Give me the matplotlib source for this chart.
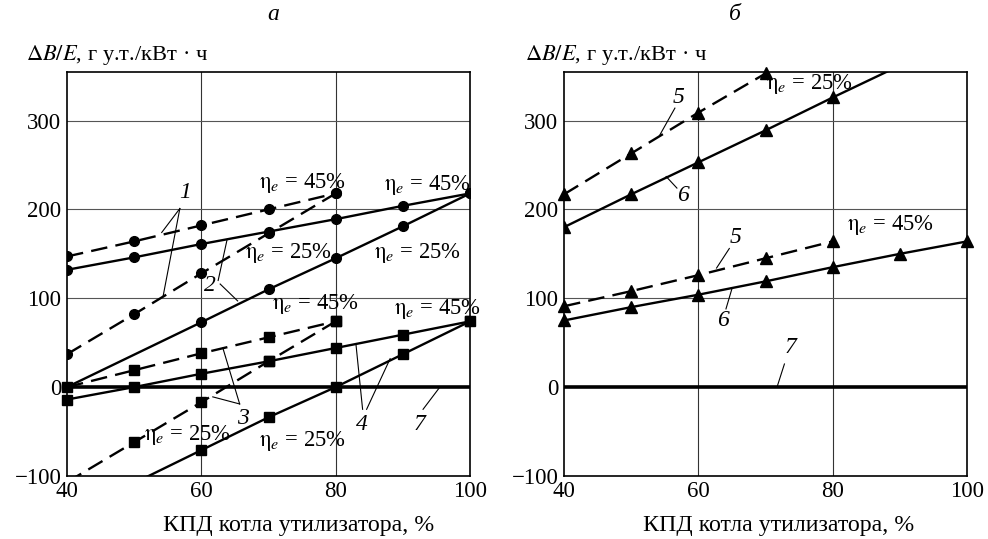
import numpy as np
import matplotlib
matplotlib.use('Agg')
import matplotlib.pyplot as plt

plt.rcParams['font.family'] = ['Liberation Serif', 'DejaVu Serif']
plt.rcParams['mathtext.fontset'] = 'stix'

# ---- panel a: circles (curves 1, 2), squares (curves 3, 4) ----
x1 = [40, 50, 60, 70, 80]
c1_45 = [147, 164, 182, 200, 218]
c1_25 = [37, 82, 128, 173, 218]

x2_45 = [40, 50, 60, 70, 80, 90, 100]
c2_45 = [132, 146, 161, 175, 189, 204, 218]
x2_25 = [40, 60, 70, 80, 90, 100]
c2_25 = [0, 73, 110, 145, 181, 218]

x3_45 = [40, 50, 60, 70, 80]
c3_45 = [0, 19, 38, 56, 74]
x3_25 = [40, 50, 60, 70, 80]
c3_25 = [-107, -62, -17, 29, 74]

x4_45 = [40, 50, 60, 70, 80, 90, 100]
c4_45 = [-14, 0, 15, 29, 44, 59, 74]
x4_25 = [50, 60, 70, 80, 90, 100]
c4_25 = [-108, -71, -34, 0, 37, 74]

# ---- panel b: triangles (curves 5, 6) ----
x5_25 = [40, 50, 60, 70]
c5_25 = [217, 263, 309, 353]
x6_25 = [40, 50, 60, 70, 80, 90]
c6_25 = [180, 217, 253, 289, 326, 362]
x5_45 = [40, 50, 60, 70, 80]
c5_45 = [91, 108, 126, 145, 164]
x6_45 = [40, 50, 60, 70, 80, 90, 100]
c6_45 = [75, 90, 104, 119, 135, 150, 164]

x7 = [40, 100]
c7 = [0, 0]

xticks = [40, 60, 80, 100]
yticks = [-100, 0, 100, 200, 300]

fig = plt.figure(figsize=(9.88, 5.39), dpi=100)
axa = fig.add_axes([0.0678, 0.117, 0.408, 0.750])
axb = fig.add_axes([0.5709, 0.117, 0.408, 0.750])

lw = 1.7
dash = (0, (7, 3.5))


def setup(ax):
    ax.set_xlim(40, 100)
    ax.set_ylim(-100, 355)
    ax.set_xticks(xticks)
    ax.set_yticks(yticks)
    ax.tick_params(length=0, labelsize=16.5, pad=4)
    for v in [60, 80]:
        ax.axvline(v, color='#333333', lw=0.8, zorder=1)
    for v in [100, 200, 300]:
        ax.axhline(v, color='#555555', lw=0.8, zorder=1)
    for s in ax.spines.values():
        s.set_linewidth(1.2)
    ax.plot(x7, c7, color='black', lw=2.6, zorder=2)


setup(axa)
setup(axb)

# curves on panel a
axa.plot(x1, c1_45, color='black', lw=lw, ls=dash, marker='o', ms=7)
axa.plot(x1, c1_25, color='black', lw=lw, ls=dash, marker='o', ms=7)
axa.plot(x2_45, c2_45, color='black', lw=lw, marker='o', ms=7)
axa.plot(x2_25, c2_25, color='black', lw=lw, marker='o', ms=7, markevery=[1, 2, 3, 4, 5])
axa.plot(x3_45, c3_45, color='black', lw=lw, ls=dash, marker='s', ms=7, clip_on=False)
axa.plot(x3_25, c3_25, color='black', lw=lw, ls=dash, marker='s', ms=7, markevery=[1, 2, 3, 4])
axa.plot(x4_45, c4_45, color='black', lw=lw, marker='s', ms=7, clip_on=False)
axa.plot(x4_25, c4_25, color='black', lw=lw, marker='s', ms=7, markevery=[1, 2, 3, 4, 5])

# curves on panel b
axb.plot(x5_25, c5_25, color='black', lw=lw, ls=dash, marker='^', ms=8, clip_on=False)
axb.plot(x6_25, c6_25, color='black', lw=lw, marker='^', ms=8, markevery=[0, 1, 2, 3, 4])
axb.plot(x5_45, c5_45, color='black', lw=lw, ls=dash, marker='^', ms=8, clip_on=False)
axb.plot(x6_45, c6_45, color='black', lw=lw, marker='^', ms=8, clip_on=False)

eta45 = r'$\mathrm{\eta}_e$ = 45%'
eta25 = r'$\mathrm{\eta}_e$ = 25%'
efs = 16.3

for x, y, s in [(75.1, 230, eta45), (93.6, 227, eta45), (72.9, 151, eta25),
                (92.1, 151, eta25), (76.9, 94, eta45), (95.1, 88, eta45),
                (57.9, -54, eta25), (75.0, -61, eta25)]:
    axa.text(x, y, s, fontsize=efs, ha='center', va='center', zorder=5)
for x, y, s in [(76.5, 341, eta25), (88.6, 182, eta45)]:
    axb.text(x, y, s, fontsize=efs, ha='center', va='center', zorder=5)


def leader(ax, label, tx, ty, pts):
    ax.text(tx, ty, label, fontsize=17, style='italic', ha='center', va='center')
    for (x0, y0, x1_, y1_) in pts:
        ax.plot([x0, x1_], [y0, y1_], color='black', lw=0.8)


leader(axa, '1', 57.6, 219, [(56.8, 201, 54.1, 174), (56.8, 201, 54.3, 102)])
leader(axa, '2', 61.3, 114, [(62.5, 120, 63.8, 165), (62.8, 116, 65.4, 97)])
leader(axa, '3', 66.2, -35, [(65.7, -19, 63.2, 44), (65.7, -19, 61.7, -11)])
leader(axa, '4', 83.9, -42, [(84.0, -25, 83.0, 49), (84.6, -25, 88.1, 32)])
leader(axa, '7', 92.5, -42, [(93.0, -25, 95.4, -1)])

leader(axb, '5', 57.1, 326, [(56.5, 314, 54.2, 283)])
leader(axb, '6', 57.7, 216, [(56.8, 224, 55.2, 237)])
leader(axb, '5', 65.5, 168, [(64.6, 156, 62.7, 134)])
leader(axb, '6', 63.7, 75, [(64.1, 88, 65.0, 111)])
leader(axb, '7', 73.7, 44, [(72.8, 26, 71.7, 0)])

ylab = r'$\Delta B/E$, г у.т./кВт · ч'
fig.text(26 / 988, 1 - 55 / 539, ylab, fontsize=16.2, ha='left', va='center')
fig.text(525 / 988, 1 - 55 / 539, ylab, fontsize=16.2, ha='left', va='center')
fig.text(273 / 988, 1 - 15 / 539, 'а', fontsize=17, style='italic', ha='center', va='center')
fig.text(735 / 988, 1 - 15 / 539, 'б', fontsize=17, style='italic', ha='center', va='center')
xlab = 'КПД котла утилизатора, %'
fig.text(299 / 988, 1 - 525 / 539, xlab, fontsize=17.2, ha='center', va='center')
fig.text(779 / 988, 1 - 525 / 539, xlab, fontsize=17.2, ha='center', va='center')

fig.savefig('out.png', dpi=100)
